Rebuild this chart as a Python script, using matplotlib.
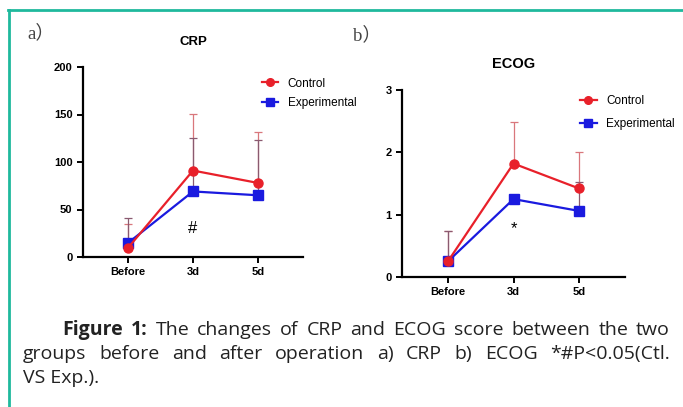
import numpy as np
import matplotlib
matplotlib.use("Agg")
import matplotlib.pyplot as plt
from matplotlib.lines import Line2D

# data
timepoints = ["Before", "3d", "5d"]
crp_ctl = [10, 91, 78]
crp_exp = [15, 69, 65]
crp_ctl_top = [35, 151, 132]
crp_exp_top = [41, 125, 123]
ecog_ctl = [0.25, 1.82, 1.42]
ecog_exp = [0.25, 1.25, 1.06]
ecog_ctl_top = [0.73, 2.48, 2.0]
ecog_exp_top = [0.73, 1.25, 1.52]

caption_lines = [
    [("Figure", "bold"), ("1:", "bold"), ("The", "normal"), ("changes", "normal"),
     ("of", "normal"), ("CRP", "normal"), ("and", "normal"), ("ECOG", "normal"),
     ("score", "normal"), ("between", "normal"), ("the", "normal"), ("two", "normal")],
    [(w, "normal") for w in
     "groups before and after operation a) CRP b) ECOG *#P<0.05(Ctl.".split()],
    [("VS Exp.).", "normal")],
]

RED = "#e8202a"
BLUE = "#1a1adf"
TEAL = "#1fb99d"
narrow = ["Liberation Sans Narrow", "Liberation Sans", "DejaVu Sans"]

fig = plt.figure(figsize=(6.83, 4.07), dpi=100)
W, H = 683, 407


def px_axes(x0, y0, x1, y1):
    return fig.add_axes([x0 / W, 1 - y1 / H, (x1 - x0) / W, (y1 - y0) / H])


def panel(ax, ctl, exp, ctl_top, exp_top, ymax, yticks, title, tsize, mark, mark_y,
          anchor, lspace):
    x = np.arange(len(timepoints))
    ctl = np.array(ctl); exp = np.array(exp)
    ax.errorbar(x, ctl, yerr=[np.zeros(3), np.array(ctl_top) - ctl], fmt="none",
                ecolor="#d9777c", elinewidth=0.9, capsize=3, capthick=0.9)
    ax.errorbar(x, exp, yerr=[np.zeros(3), np.array(exp_top) - exp], fmt="none",
                ecolor="#8a5a70", elinewidth=0.9, capsize=3, capthick=0.9)
    ax.plot(x, ctl, color=RED, lw=1.6, marker="o", ms=6.5, zorder=4)
    ax.plot(x, exp, color=BLUE, lw=1.6, marker="s", ms=6.5, zorder=3)
    ax.set_xlim(-0.7, 2.7)
    ax.set_ylim(0, ymax)
    ax.set_yticks(yticks)
    ax.set_xticks(x)
    ax.set_xticklabels(timepoints)
    for s in ["top", "right"]:
        ax.spines[s].set_visible(False)
    for s in ["left", "bottom"]:
        ax.spines[s].set_linewidth(1.6)
    ax.tick_params(width=1.4, length=4, labelsize=8)
    for lab in ax.get_xticklabels() + ax.get_yticklabels():
        lab.set_fontweight("bold")
        lab.set_family(narrow)
    ax.set_title(title, fontsize=tsize, fontweight="bold", family=narrow, pad=16)
    ax.text(1, mark_y, mark, ha="center", va="center", fontsize=12, family=narrow)
    handles = [Line2D([], [], color=RED, marker="o", lw=1.6, ms=5.5),
               Line2D([], [], color=BLUE, marker="s", lw=1.6, ms=5.5)]
    ax.legend(handles, ["Control", "Experimental"], loc="upper right",
              bbox_to_anchor=anchor, frameon=False, handlelength=1.4,
              prop={"family": narrow, "size": 8.5}, labelspacing=lspace)


ax1 = px_axes(83, 67, 303, 257)
panel(ax1, crp_ctl, crp_exp, crp_ctl_top, crp_exp_top, 200, [0, 50, 100, 150, 200],
      "CRP", 9.5, "#", 30, (1.29, 1.0), 0.6)

ax2 = px_axes(402, 90, 625, 277)
panel(ax2, ecog_ctl, ecog_exp, ecog_ctl_top, ecog_exp_top, 3, [0, 1, 2, 3],
      "ECOG", 10.5, "*", 0.78, (1.27, 1.03), 0.9)

fig.text(27 / W, 1 - 33 / H, "a\uff09", fontsize=13.5, color="#444444",
         family=["Liberation Serif", "Noto Sans CJK SC"], va="center")
fig.text(353 / W, 1 - 35 / H, "b\uff09", fontsize=13.5, color="#444444",
         family=["Liberation Serif", "Noto Sans CJK SC"], va="center")

# caption, justified between x0 and 670 px
cap_font = ["Open Sans", "DejaVu Sans"]
cap_size = 14
renderer = fig.canvas.get_renderer()
starts = [62, 23, 23]
ys = [330, 354, 378]
for words, x0, y, justify in zip(caption_lines, starts, ys, [True, True, False]):
    texts = [fig.text(0, 1 - y / H, w, fontsize=cap_size, fontweight=wt,
                      family=cap_font, va="center", color="#222222")
             for w, wt in words]
    widths = [t.get_window_extent(renderer).width for t in texts]
    if justify and len(texts) > 1:
        gap = (670 - x0 - sum(widths)) / (len(texts) - 1)
    else:
        gap = 4
    x = x0
    for t, w in zip(texts, widths):
        t.set_x(x / W)
        x += w + gap

# teal frame (left and top)
fig.add_artist(Line2D([9 / W, 9 / W], [0, 1 - 10 / H], color=TEAL, lw=2))
fig.add_artist(Line2D([8 / W, 1], [1 - 10 / H, 1 - 10 / H], color=TEAL, lw=2))

fig.savefig("out.png", dpi=100)
